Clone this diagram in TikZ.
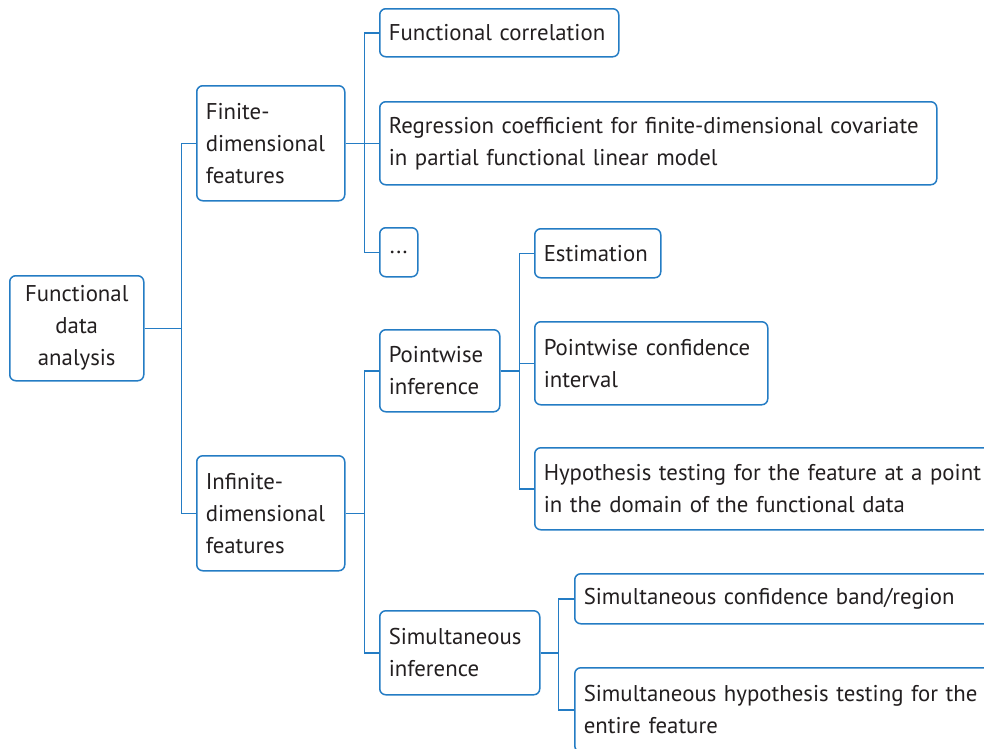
\documentclass[tikz,border=0pt]{standalone}
\usepackage{fontspec}
\setmainfont{PT Sans}
\usepackage{tikz}
\definecolor{fdablue}{RGB}{36,124,196}
\definecolor{fdatext}{RGB}{35,31,32}
\tikzset{
    fdabox/.style 2 args={
        draw=fdablue, line width=1.5pt, rounded corners=6pt, fill=white,
        anchor=north west, align=left, inner xsep=9pt, inner ysep=0pt,
        text=fdatext, font=\fontsize{22.8}{32}\selectfont,
        text width=#1-18pt, minimum height=#2
    },
    link/.style={draw=fdablue, line width=1.5pt},
}

\begin{document}
\begin{tikzpicture}[x=1pt, y=-1pt]
    \useasboundingbox (0,0) rectangle (984,748);
    % root and first level
    \node[fdabox={134pt}{105pt}, align=center] (root) at (9,275) {Functional\\data\\analysis};
    \node[fdabox={148pt}{115pt}] (fin) at (196,85) {Finite-\\dimensional\\features};
    \node[fdabox={148pt}{115pt}] (inf) at (196,455) {Infinite-\\dimensional\\features};
    % finite-dimensional features
    \node[fdabox={239pt}{48pt}] (corr) at (379,8) {Functional correlation};
    \node[fdabox={557pt}{83pt}] (reg) at (379,101) {Regression coefficient for finite-dimensional covariate\\in partial functional linear model};
    \node[fdabox={38pt}{49pt}, align=center] (more) at (379,227) {...};
    % infinite-dimensional features
    \node[fdabox={120pt}{82pt}] (pw) at (379,329) {Pointwise\\inference};
    \node[fdabox={160pt}{84pt}] (sim) at (379,610) {Simultaneous\\inference};
    \node[fdabox={126pt}{49pt}] (est) at (534,228) {Estimation};
    \node[fdabox={233pt}{83pt}] (pci) at (534,321) {Pointwise confidence\\interval};
    \node[fdabox={470pt}{82pt}] (hyp) at (534,447) {Hypothesis testing for the feature at a point\\in the domain of the functional data};
    \node[fdabox={430pt}{50pt}] (scb) at (574,573) {Simultaneous confidence band/region};
    \node[fdabox={430pt}{84pt}] (sht) at (574,667) {Simultaneous hypothesis testing for the\\entire feature};
    % connectors
    \draw[link] (root.east) -- ++(37,0) |- (fin.west);
    \draw[link] (root.east) -- ++(37,0) |- (inf.west);
    \foreach \c in {corr,reg,more}
        \draw[link] (fin.east) -- ++(19,0) |- (\c.west);
    \foreach \c in {pw,sim}
        \draw[link] (inf.east) -- ++(19,0) |- (\c.west);
    \foreach \c in {est,pci,hyp}
        \draw[link] (pw.east) -- ++(19,0) |- (\c.west);
    \foreach \c in {scb,sht}
        \draw[link] (sim.east) -- ++(18,0) |- (\c.west);
\end{tikzpicture}
\end{document}
